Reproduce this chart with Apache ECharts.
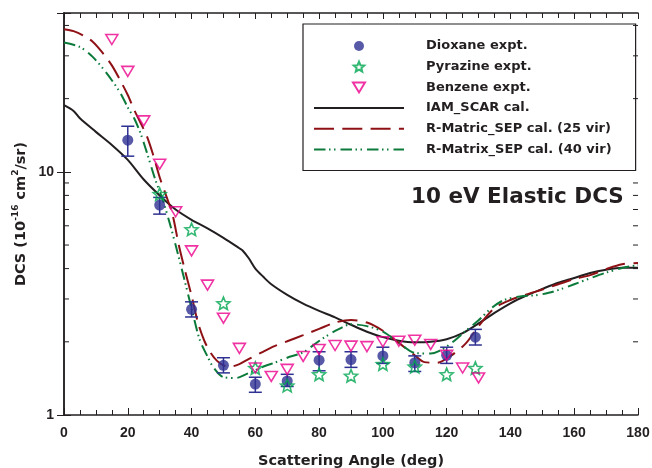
<!DOCTYPE html>
<html>
<head>
<meta charset="utf-8">
<script src="https://cdn.jsdelivr.net/npm/echarts@6/dist/echarts.min.js"></script>
<style>
  html, body { margin: 0; padding: 0; background: #fff; }
  #chart { width: 652px; height: 468px; }
</style>
</head>
<body>
<div id="chart"></div>
<script>
// experimental points
const dioxaneAngle = [20, 30, 40, 50, 60, 70, 80, 90, 100, 110, 120, 129];
const dioxaneDcs   = [13.5, 7.3, 2.72, 1.6, 1.34, 1.38, 1.68, 1.69, 1.75, 1.64, 1.76, 2.09];
const dioxaneLow   = [11.6, 6.7, 2.53, 1.49, 1.24, 1.31, 1.52, 1.57, 1.63, 1.51, 1.63, 1.94];
const dioxaneHigh  = [15.4, 7.85, 2.92, 1.72, 1.43, 1.47, 1.82, 1.82, 1.90, 1.75, 1.90, 2.25];

const pyrazineAngle = [30, 40, 50, 60, 70, 80, 90, 100, 110, 120, 129];
const pyrazineDcs   = [8.1, 5.8, 2.88, 1.56, 1.32, 1.47, 1.45, 1.62, 1.58, 1.47, 1.56];

const benzeneAngle = [15, 20, 25, 30, 35, 40, 45, 50, 55, 60, 65, 70, 75, 80, 85, 90, 95, 100, 105, 110, 115, 120, 125, 130];
const benzeneDcs   = [35.0, 25.9, 16.2, 10.75, 6.85, 4.73, 3.42, 2.50, 1.88, 1.56, 1.44, 1.54, 1.74, 1.86, 1.93, 1.92, 1.91, 2.0, 2.01, 2.03, 1.95, 1.76, 1.56, 1.42];

// calculations
const iamAngle = [0, 3, 5, 10, 15, 20, 25, 30, 35, 40, 45, 50, 55, 56, 58, 60, 62.5, 65, 70, 75, 80, 85, 90, 95, 100, 105, 110, 115, 120, 125, 130, 135, 140, 145, 150, 155, 160, 165, 170, 175, 180];
const iamDcs   = [18.8, 17.8, 16.6, 14.6, 12.9, 11.2, 9.3, 8.0, 7.0, 6.35, 5.85, 5.35, 4.85, 4.75, 4.4, 4.0, 3.7, 3.45, 3.12, 2.87, 2.68, 2.52, 2.35, 2.2, 2.09, 2.02, 1.99, 2.0, 2.05, 2.17, 2.38, 2.63, 2.88, 3.1, 3.3, 3.5, 3.66, 3.84, 3.96, 4.03, 4.03];

const sep25Angle = [0, 3, 6, 9, 12, 15, 18, 20, 22, 24, 26, 28, 30, 32, 34, 36, 38, 40, 42, 44, 46, 48, 50, 52, 55, 58, 62, 66, 70, 75, 80, 85, 90, 95, 100, 105, 110, 113, 117, 121, 126, 130, 135, 140, 145, 150, 155, 160, 165, 170, 175, 180];
const sep25Dcs   = [38.6, 37.9, 36.4, 34.3, 31.0, 27.4, 23.3, 20.7, 18.0, 15.9, 14.0, 11.7, 9.5, 8.0, 6.7, 5.0, 3.9, 3.1, 2.4, 2.02, 1.8, 1.67, 1.6, 1.58, 1.62, 1.7, 1.81, 1.92, 2.01, 2.13, 2.26, 2.40, 2.46, 2.40, 2.22, 1.98, 1.76, 1.65, 1.64, 1.74, 1.97, 2.32, 2.75, 2.97, 3.13, 3.28, 3.45, 3.62, 3.76, 3.98, 4.17, 4.22];

const sep40Angle = [0, 5, 9, 13, 17.5, 20, 22, 24, 26, 28.5, 31, 33, 35, 37, 40, 42.5, 45, 47, 50, 54, 57, 60, 63, 66, 70, 75, 78, 82, 86, 90, 95, 100, 105, 110, 115, 118, 122, 126, 130, 134, 138, 143, 148, 152, 156, 160, 165, 170, 175, 180];
const sep40Dcs   = [34.0, 32.6, 29.7, 25.8, 21.3, 18.4, 16.6, 14.4, 12.0, 9.4, 7.65, 6.25, 5.0, 3.95, 2.75, 2.05, 1.74, 1.56, 1.43, 1.42, 1.47, 1.53, 1.59, 1.64, 1.72, 1.81, 1.93, 2.10, 2.25, 2.36, 2.32, 2.2, 1.98, 1.8, 1.79, 1.84, 2.0, 2.22, 2.45, 2.75, 2.97, 3.07, 3.11, 3.18, 3.3, 3.45, 3.65, 3.85, 4.02, 4.14];

const xTicks = { min: 0, max: 180, step: 20 };
const yLabels = [1, 10];
const yMinor = [2, 3, 4, 5, 6, 7, 8, 9, 20, 30, 40];

const ink = '#231f20';
const blue = '#2e3192';
const green = '#00a651';
const pink = '#ec008c';
const darkRed = '#8e1116';
const darkGreen = '#0b7a3a';
const labelFont = 'Liberation Sans, Arial, sans-serif';
const textFont = 'DejaVu Sans, sans-serif';

const starPath = 'path://M100 0 L126.45 63.6 L195.1 69.1 L142.8 113.9 L158.8 180.9 L100 145 L41.2 180.9 L57.2 113.9 L4.9 69.1 L73.55 63.6 Z';
const triPath = 'path://M0 0 L12 0 L6 10 Z';

const pairs = (xs, ys) => xs.map((x, i) => [x, ys[i]]);

const chart = echarts.init(document.getElementById('chart'));

const xBase = {
  type: 'value', min: xTicks.min, max: xTicks.max, interval: xTicks.step,
  axisLine: { show: true, lineStyle: { color: ink, width: 1.5 } },
  splitLine: { show: false },
  minorTick: { show: true, splitNumber: 4, length: 5, lineStyle: { color: ink, width: 1 } },
  axisTick: { show: true, inside: true, length: 7, lineStyle: { color: ink, width: 1 } }
};
const yBase = {
  type: 'log', logBase: 10, min: 1, max: 45,
  axisLine: { show: true, lineStyle: { color: ink, width: 1.5 } },
  splitLine: { show: false },
  axisTick: { show: true, inside: true, length: 7, lineStyle: { color: ink, width: 1 } }
};

const hideDot = { opacity: 0 };

chart.setOption({
  animation: false,
  backgroundColor: '#fff',
  grid: { left: 64, right: 14, top: 13, bottom: 53, outerBoundsMode: 'none', containLabel: false },
  title: {
    text: '10 eV Elastic DCS', left: 411, top: 186, padding: 0,
    textStyle: { fontFamily: textFont, fontWeight: 'bold', fontSize: 21.5, color: ink }
  },
  legend: {
    orient: 'vertical', left: 303, top: 24,
    padding: [15, 24, 14, 10],
    borderColor: ink, borderWidth: 1.2,
    itemWidth: 90, itemHeight: 10, itemGap: 6.7,
    textStyle: { fontFamily: textFont, fontWeight: 'bold', fontSize: 13, color: ink, lineHeight: 14, padding: [0, 0, 0, 17] },
    data: [
      'Dioxane expt.', 'Pyrazine expt.', 'Benzene expt.',
      { name: 'IAM_SCAR cal.', itemStyle: hideDot },
      { name: 'R-Matric_SEP cal. (25 vir)', itemStyle: hideDot },
      { name: 'R-Matrix_SEP cal. (40 vir)', itemStyle: hideDot }
    ]
  },
  xAxis: [
    Object.assign({}, xBase, {
      position: 'bottom',
      name: 'Scattering Angle (deg)', nameLocation: 'middle', nameGap: 39,
      nameTextStyle: { fontFamily: textFont, fontWeight: 'bold', fontSize: 14.5, color: ink },
      axisLabel: { margin: 11, fontFamily: labelFont, fontWeight: 'bold', fontSize: 14, color: ink }
    }),
    Object.assign({}, xBase, {
      position: 'top', axisLabel: { show: false },
      axisTick: { show: true, inside: true, length: 6, lineStyle: { color: ink, width: 1 } }
    })
  ],
  yAxis: [
    Object.assign({}, yBase, {
      position: 'left',
      name: 'DCS (10{sup|-16} cm{sup|2}/sr)', nameLocation: 'middle', nameGap: 33, nameRotate: 90,
      nameMoveOverlap: false,
      nameTextStyle: {
        fontFamily: textFont, fontWeight: 'bold', fontSize: 14.5, color: ink, lineHeight: 20,
        rich: { sup: { fontFamily: textFont, fontWeight: 'bold', fontSize: 9, color: ink, verticalAlign: 'top', lineHeight: 12 } }
      },
      axisLabel: {
        margin: 10, fontFamily: labelFont, fontWeight: 'bold', fontSize: 14, color: ink,
        formatter: v => (yLabels.indexOf(Math.round(v)) >= 0 && Math.abs(v - Math.round(v)) < 1e-6) ? String(Math.round(v)) : ''
      }
    }),
    Object.assign({}, yBase, { position: 'right', axisLabel: { show: false } })
  ],
  series: [
    {
      name: 'dioxane-err', type: 'custom', xAxisIndex: 0, yAxisIndex: 0, z: 3,
      data: dioxaneAngle.map((a, i) => [a, dioxaneLow[i], dioxaneHigh[i]]),
      encode: { x: 0, y: [1, 2] },
      renderItem: (params, api) => {
        const lo = api.coord([api.value(0), api.value(1)]);
        const hi = api.coord([api.value(0), api.value(2)]);
        const w = 6.5;
        const st = { stroke: blue, lineWidth: 1.5 };
        return {
          type: 'group', children: [
            { type: 'line', shape: { x1: lo[0], y1: lo[1], x2: hi[0], y2: hi[1] }, style: st },
            { type: 'line', shape: { x1: lo[0] - w, y1: lo[1], x2: lo[0] + w, y2: lo[1] }, style: st },
            { type: 'line', shape: { x1: hi[0] - w, y1: hi[1], x2: hi[0] + w, y2: hi[1] }, style: st }
          ]
        };
      }
    },
    {
      name: 'IAM_SCAR cal.', type: 'line', data: pairs(iamAngle, iamDcs),
      symbol: 'none', smooth: 0.3, z: 2,
      itemStyle: { color: ink },
      lineStyle: { color: ink, width: 2 }
    },
    {
      name: 'R-Matric_SEP cal. (25 vir)', type: 'line', data: pairs(sep25Angle, sep25Dcs),
      symbol: 'none', smooth: 0.3, z: 2,
      itemStyle: { color: darkRed },
      lineStyle: { color: darkRed, width: 2, type: [20, 8.3] }
    },
    {
      name: 'R-Matrix_SEP cal. (40 vir)', type: 'line', data: pairs(sep40Angle, sep40Dcs),
      symbol: 'none', smooth: 0.3, z: 2,
      itemStyle: { color: darkGreen },
      lineStyle: { color: darkGreen, width: 2, type: [11.5, 3.5, 1.5, 3.5, 1.5, 5] }
    },
    {
      name: 'Dioxane expt.', type: 'scatter', data: pairs(dioxaneAngle, dioxaneDcs),
      symbol: 'circle', symbolSize: 11, z: 4,
      itemStyle: { color: blue }
    },
    {
      name: 'Pyrazine expt.', type: 'scatter', data: pairs(pyrazineAngle, pyrazineDcs),
      symbol: starPath, symbolSize: 13, symbolKeepAspect: true, z: 4,
      itemStyle: { color: 'rgba(255,255,255,0)', borderColor: green, borderWidth: 1.6 }
    },
    {
      name: 'Benzene expt.', type: 'scatter', data: pairs(benzeneAngle, benzeneDcs),
      symbol: triPath, symbolSize: 12, symbolKeepAspect: true, z: 4,
      itemStyle: { color: 'rgba(255,255,255,0)', borderColor: pink, borderWidth: 1.6 }
    }
  ]
});

// minor ticks of the log axes, placed through the axis scale
const x0 = chart.convertToPixel({ xAxisIndex: 0 }, 0);
const x1 = chart.convertToPixel({ xAxisIndex: 0 }, 180);
const ticks = [];
yMinor.forEach(v => {
  const y = chart.convertToPixel({ yAxisIndex: 0 }, v);
  ticks.push({ type: 'line', shape: { x1: x0, y1: y, x2: x0 + 5, y2: y }, style: { stroke: ink, lineWidth: 1 } });
  ticks.push({ type: 'line', shape: { x1: x1, y1: y, x2: x1 - 5, y2: y }, style: { stroke: ink, lineWidth: 1 } });
});
chart.setOption({ graphic: ticks });
</script>
</body>
</html>
